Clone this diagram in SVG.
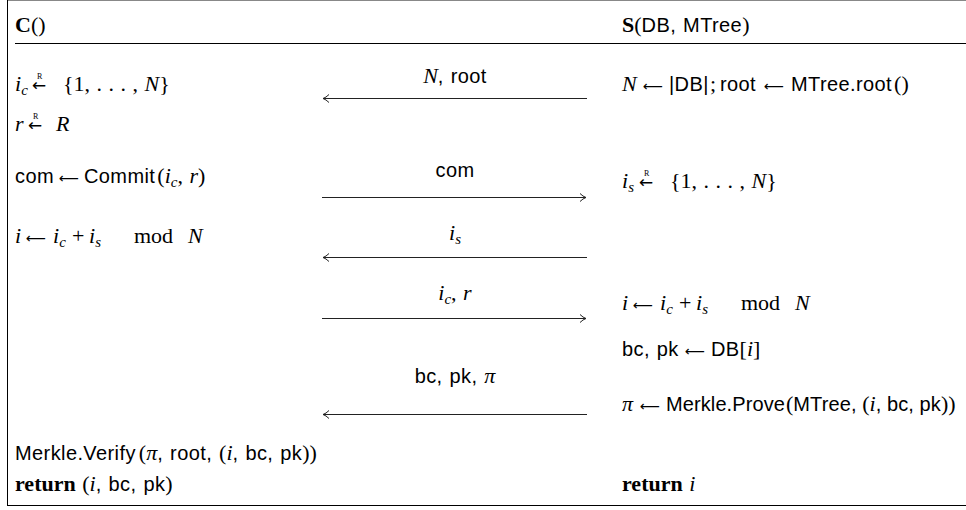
<svg xmlns="http://www.w3.org/2000/svg" width="966" height="510" viewBox="0 0 966 510">
<style>
.t{font-family:"Liberation Sans",Arial,sans-serif;font-size:20px;letter-spacing:0.4px;word-spacing:1px;fill:#000}
.tt{letter-spacing:0.1px;word-spacing:0}
.m{font-family:"Liberation Serif","Times New Roman",serif;font-style:italic;font-size:22px;letter-spacing:0}
.r{font-family:"Liberation Serif","Times New Roman",serif;font-size:22px;letter-spacing:0}
.b{font-family:"Liberation Serif","Times New Roman",serif;font-weight:bold;font-size:22px;letter-spacing:0}
.s{font-size:15px}
.a{font-family:"DejaVu Sans",sans-serif;font-size:14px;font-style:normal;letter-spacing:0}
.a2{font-family:"DejaVu Sans",sans-serif;font-size:17px;font-style:normal;letter-spacing:0}
.rr{font-family:"Liberation Serif",serif;font-size:8px;font-style:normal}
.ln{stroke:#000;stroke-width:1;fill:none}
.ar{stroke:#222;stroke-width:1;fill:none}
</style>
<defs>
<marker id="ah" markerWidth="10" markerHeight="10" refX="0" refY="0" viewBox="-8 -5 10 10" orient="auto" markerUnits="userSpaceOnUse">
<path d="M-6,-4 Q-3,-1 0,0 Q-3,1 -6,4" stroke="#222" stroke-width="1" fill="none"/>
</marker>
</defs>
<g id="frame">
<line x1="7" y1="0.5" x2="966" y2="0.5" stroke="#888" stroke-width="1"/>
<line class="ln" x1="7.5" y1="0" x2="7.5" y2="505.5"/>
<line class="ln" x1="7" y1="505.5" x2="966" y2="505.5" stroke-width="1.2"/>
<line class="ln" x1="15" y1="43.5" x2="966" y2="43.5"/>
</g>
<g id="client">
<text class="t" x="15" y="32"><tspan class="b">C</tspan><tspan class="r">()</tspan></text>
<text class="t" y="91"><tspan class="m" x="15">i</tspan><tspan class="m s" dy="4">c</tspan><tspan class="a2" x="32" dy="-4">←</tspan><tspan class="rr" x="37" dy="-12">R</tspan><tspan class="r" x="63" dy="12">{1, . . . , </tspan><tspan class="m">N</tspan><tspan class="r">}</tspan></text>
<text class="t" y="131"><tspan class="m" x="15">r</tspan><tspan class="a2" x="28">←</tspan><tspan class="rr" x="33" dy="-12">R</tspan><tspan class="m" x="56" dy="12">R</tspan></text>
<text class="t" y="183"><tspan x="15">com</tspan><tspan class="a" x="59">⟵</tspan><tspan x="84">Commit</tspan><tspan class="r" dx="2">(</tspan><tspan class="m">i</tspan><tspan class="m s" dy="4">c</tspan><tspan class="r" dy="-4">, </tspan><tspan class="m">r</tspan><tspan class="r">)</tspan></text>
<text class="t" y="243"><tspan class="m" x="15">i</tspan><tspan class="a" x="26">⟵</tspan><tspan class="m" x="53">i</tspan><tspan class="m s" dy="4">c</tspan><tspan class="r" dy="-4" x="72">+</tspan><tspan class="m" x="89">i</tspan><tspan class="m s" dy="4">s</tspan><tspan class="r" dy="-4" x="134">mod</tspan><tspan class="m" x="188">N</tspan></text>
<text class="t" y="460"><tspan x="15">Merkle.Verify</tspan><tspan class="r" dx="3">(</tspan><tspan class="m">π</tspan>, root, <tspan class="r">(</tspan><tspan class="m">i</tspan>, bc, pk<tspan class="r">))</tspan></text>
<text class="t" y="491"><tspan class="b" x="15">return</tspan><tspan class="r"> (</tspan><tspan class="m">i</tspan>, bc, pk<tspan class="r">)</tspan></text>
</g>
<g id="server">
<text class="t" y="32"><tspan class="b" x="622">S</tspan><tspan class="r">(</tspan>DB, MTree<tspan class="r">)</tspan></text>
<text class="t" y="91"><tspan class="m" x="622">N</tspan><tspan class="a" x="643">⟵</tspan><tspan x="669">|DB|</tspan><tspan class="r" x="710">;</tspan><tspan x="720">root</tspan><tspan class="a" x="764">⟵</tspan><tspan x="791">MTree.root</tspan><tspan class="r" dx="2">()</tspan></text>
<text class="t" y="188"><tspan class="m" x="622">i</tspan><tspan class="m s" dy="4">s</tspan><tspan class="a2" x="639" dy="-4">←</tspan><tspan class="rr" x="644" dy="-12">R</tspan><tspan class="r" x="670" dy="12">{1, . . . , </tspan><tspan class="m">N</tspan><tspan class="r">}</tspan></text>
<text class="t" y="310"><tspan class="m" x="622">i</tspan><tspan class="a" x="633">⟵</tspan><tspan class="m" x="660">i</tspan><tspan class="m s" dy="4">c</tspan><tspan class="r" dy="-4" x="679">+</tspan><tspan class="m" x="696">i</tspan><tspan class="m s" dy="4">s</tspan><tspan class="r" dy="-4" x="741">mod</tspan><tspan class="m" x="795">N</tspan></text>
<text class="t" y="356"><tspan x="622">bc, pk</tspan><tspan class="a" x="685">⟵</tspan><tspan x="711">DB</tspan><tspan class="r">[</tspan><tspan class="m">i</tspan><tspan class="r">]</tspan></text>
<text class="t tt" y="411"><tspan class="m" x="622">π</tspan><tspan class="a" x="640">⟵</tspan><tspan x="666">Merkle.Prove</tspan><tspan class="r" dx="1">(</tspan>MTree, <tspan class="r">(</tspan><tspan class="m">i</tspan>, bc, pk<tspan class="r">))</tspan></text>
<text class="t" y="491"><tspan class="b" x="622">return </tspan><tspan class="m">i</tspan></text>
</g>
<g id="connectors">
<line class="ar" x1="587" y1="98.5" x2="323" y2="98.5" marker-end="url(#ah)"/>
<line class="ar" x1="322" y1="197.5" x2="586" y2="197.5" marker-end="url(#ah)"/>
<line class="ar" x1="587" y1="257.5" x2="323" y2="257.5" marker-end="url(#ah)"/>
<line class="ar" x1="322" y1="318.5" x2="586" y2="318.5" marker-end="url(#ah)"/>
<line class="ar" x1="587" y1="414.5" x2="323" y2="414.5" marker-end="url(#ah)"/>
<text class="t" x="455" y="83" text-anchor="middle"><tspan class="m">N</tspan>, root</text>
<text class="t" x="455" y="177" text-anchor="middle">com</text>
<text class="t" x="455" y="240" text-anchor="middle"><tspan class="m">i</tspan><tspan class="m s" dy="4">s</tspan></text>
<text class="t" x="455" y="300" text-anchor="middle"><tspan class="m">i</tspan><tspan class="m s" dy="4">c</tspan><tspan class="r" dy="-4">, </tspan><tspan class="m">r</tspan></text>
<text class="t" x="455" y="383" text-anchor="middle">bc, pk, <tspan class="m">π</tspan></text>
</g>
</svg>
